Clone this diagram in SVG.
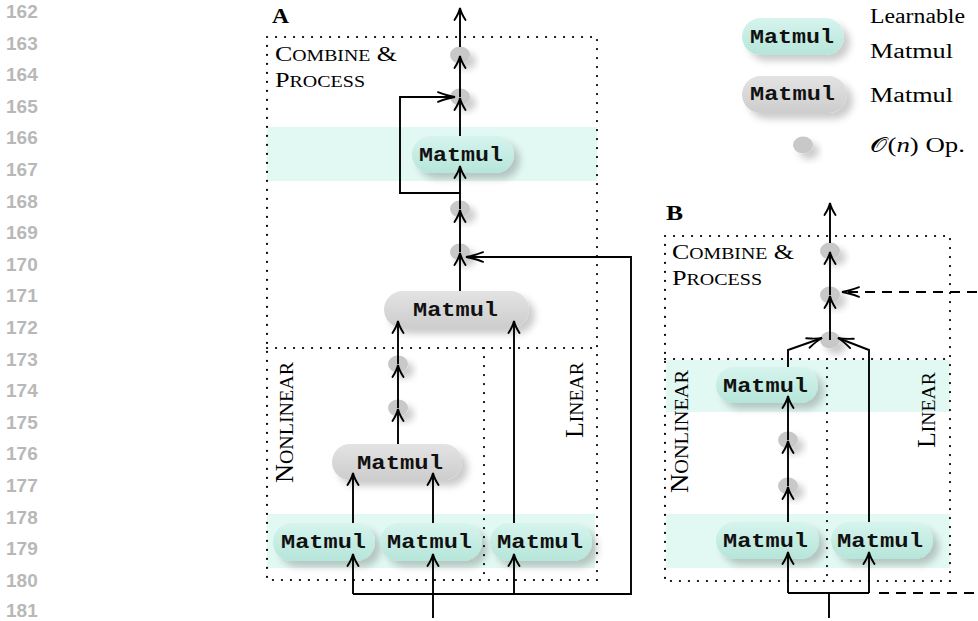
<svg xmlns="http://www.w3.org/2000/svg" width="978" height="621" viewBox="0 0 978 621">
<style>
.ln{font-family:"Liberation Sans",Arial,sans-serif;font-weight:bold;font-size:19px;fill:#b8b8b8}
.serif{font-family:"Liberation Serif","Times New Roman",serif;fill:#000}
.mm{font-family:"Liberation Mono","Courier New",monospace;font-weight:bold;font-size:20px;fill:#111}
.band{fill:#e2f8f2}
.dotted{fill:none;stroke:#000;stroke-width:2.2;stroke-linecap:round;stroke-dasharray:0.1 8.9}
.teal{fill:url(#gTeal);filter:url(#sh)}
.gray{fill:url(#gGray);filter:url(#sh)}
.op{fill:#c8c8c8;filter:url(#sh)}
.c{fill:none;stroke:#000;stroke-width:1.9}
.cv{marker-end:url(#av)}
.ch{marker-end:url(#ah)}
.cd{marker-end:url(#ad)}
.dash{stroke-dasharray:10 7}
</style>
<defs>
<linearGradient id="gTeal" x1="0" y1="0" x2="0" y2="1">
<stop offset="0" stop-color="#d6f4ed"/><stop offset="1" stop-color="#b6e5d9"/>
</linearGradient>
<linearGradient id="gGray" x1="0" y1="0" x2="0" y2="1">
<stop offset="0" stop-color="#e3e3e3"/><stop offset="1" stop-color="#cdcdcd"/>
</linearGradient>
<filter id="sh" x="-40%" y="-40%" width="190%" height="200%">
<feGaussianBlur in="SourceAlpha" stdDeviation="3.5"/>
<feOffset dx="6" dy="6" result="b"/>
<feFlood flood-color="#000" flood-opacity="0.2"/>
<feComposite in2="b" operator="in"/>
<feMerge><feMergeNode/><feMergeNode in="SourceGraphic"/></feMerge>
</filter>
<marker id="av" viewBox="-14 -8 16 16" refX="0" refY="0" markerWidth="16" markerHeight="16" markerUnits="userSpaceOnUse" orient="auto">
<path d="M-12,-5.5 Q-5,-1 0,0 Q-5,1 -12,5.5" fill="none" stroke="#000" stroke-width="1.9" stroke-linecap="round"/>
</marker>
<marker id="ah" viewBox="-19 -8 21 16" refX="0" refY="0" markerWidth="21" markerHeight="16" markerUnits="userSpaceOnUse" orient="auto">
<path d="M-17,-4.8 Q-7,-1 0,0 Q-7,1 -17,4.8" fill="none" stroke="#000" stroke-width="1.9" stroke-linecap="round"/>
</marker>
<marker id="ad" viewBox="-17 -8 19 16" refX="0" refY="0" markerWidth="19" markerHeight="16" markerUnits="userSpaceOnUse" orient="auto">
<path d="M-15,-5 Q-6,-1 0,0 Q-6,1 -15,5" fill="none" stroke="#000" stroke-width="1.9" stroke-linecap="round"/>
</marker>
</defs>
<rect width="978" height="621" fill="#fff"/>

<g id="line-numbers">
<text class="ln" x="6" y="18">162</text>
<text class="ln" x="6" y="49.6">163</text>
<text class="ln" x="6" y="81.2">164</text>
<text class="ln" x="6" y="112.8">165</text>
<text class="ln" x="6" y="144.4">166</text>
<text class="ln" x="6" y="176">167</text>
<text class="ln" x="6" y="207.6">168</text>
<text class="ln" x="6" y="239.2">169</text>
<text class="ln" x="6" y="270.8">170</text>
<text class="ln" x="6" y="302.4">171</text>
<text class="ln" x="6" y="334">172</text>
<text class="ln" x="6" y="365.6">173</text>
<text class="ln" x="6" y="397.2">174</text>
<text class="ln" x="6" y="428.8">175</text>
<text class="ln" x="6" y="460.4">176</text>
<text class="ln" x="6" y="492">177</text>
<text class="ln" x="6" y="523.6">178</text>
<text class="ln" x="6" y="555.2">179</text>
<text class="ln" x="6" y="586.8">180</text>
<text class="ln" x="6" y="617">181</text>
</g>

<!-- Panel A regions -->
<g id="panelA-regions">
<rect class="band" x="267" y="127" width="330" height="54"/>
<rect class="band" x="267" y="514" width="328" height="54"/>
<rect class="dotted" x="267" y="37" width="330" height="543"/>
<line class="dotted" x1="267" y1="348" x2="597" y2="348"/>
<line class="dotted" x1="484" y1="348" x2="484" y2="580"/>
<text class="serif" x="272" y="23" font-size="20" font-weight="bold" textLength="17" lengthAdjust="spacingAndGlyphs">A</text>
<text class="serif" x="275" y="61" textLength="122" lengthAdjust="spacingAndGlyphs"><tspan font-size="21">C</tspan><tspan font-size="16">OMBINE</tspan><tspan font-size="21"> &amp;</tspan></text>
<text class="serif" x="275" y="87" textLength="90" lengthAdjust="spacingAndGlyphs"><tspan font-size="21">P</tspan><tspan font-size="16">ROCESS</tspan></text>
<text class="serif" transform="translate(293,483) scale(1.15,1) rotate(-90)" x="0" y="0" textLength="121" lengthAdjust="spacingAndGlyphs"><tspan font-size="21">N</tspan><tspan font-size="16">ONLINEAR</tspan></text>
<text class="serif" transform="translate(583,438) scale(1.15,1) rotate(-90)" x="0" y="0" textLength="76" lengthAdjust="spacingAndGlyphs"><tspan font-size="21">L</tspan><tspan font-size="16">INEAR</tspan></text>
</g>

<!-- Panel B regions -->
<g id="panelB-regions">
<rect class="band" x="666" y="360" width="284" height="52"/>
<rect class="band" x="666" y="514" width="284" height="54"/>
<rect class="dotted" x="665" y="236" width="285" height="345"/>
<line class="dotted" x1="665" y1="359" x2="950" y2="359"/>
<line class="dotted" x1="827" y1="359" x2="827" y2="581"/>
<text class="serif" x="666" y="220" font-size="20" font-weight="bold" textLength="17" lengthAdjust="spacingAndGlyphs">B</text>
<text class="serif" x="672" y="259" textLength="122" lengthAdjust="spacingAndGlyphs"><tspan font-size="21">C</tspan><tspan font-size="16">OMBINE</tspan><tspan font-size="21"> &amp;</tspan></text>
<text class="serif" x="672" y="285" textLength="90" lengthAdjust="spacingAndGlyphs"><tspan font-size="21">P</tspan><tspan font-size="16">ROCESS</tspan></text>
<text class="serif" transform="translate(688,493) scale(1.15,1) rotate(-90)" x="0" y="0" textLength="123" lengthAdjust="spacingAndGlyphs"><tspan font-size="21">N</tspan><tspan font-size="16">ONLINEAR</tspan></text>
<text class="serif" transform="translate(935,448) scale(1.15,1) rotate(-90)" x="0" y="0" textLength="76" lengthAdjust="spacingAndGlyphs"><tspan font-size="21">L</tspan><tspan font-size="16">INEAR</tspan></text>
</g>

<!-- Panel A nodes -->
<g id="A-op1"><ellipse class="op" cx="460" cy="55" rx="10" ry="8.5"/></g>
<g id="A-op2"><ellipse class="op" cx="460" cy="97" rx="10" ry="8.5"/></g>
<g id="A-learn-top"><rect class="teal" x="412" y="136" width="102" height="37" rx="18.5"/><text class="mm" x="419" y="161" textLength="84" lengthAdjust="spacingAndGlyphs">Matmul</text></g>
<g id="A-op3"><ellipse class="op" cx="460" cy="209" rx="10" ry="8.5"/></g>
<g id="A-op4"><ellipse class="op" cx="460" cy="252" rx="10" ry="8.5"/></g>
<g id="A-matmul-mid"><rect class="gray" x="384" y="291" width="145" height="37" rx="18.5"/><text class="mm" x="413" y="316" textLength="85" lengthAdjust="spacingAndGlyphs">Matmul</text></g>
<g id="A-op5"><ellipse class="op" cx="398" cy="364" rx="10" ry="8.5"/></g>
<g id="A-op6"><ellipse class="op" cx="398" cy="408" rx="10" ry="8.5"/></g>
<g id="A-matmul-low"><rect class="gray" x="332" y="444" width="130" height="36" rx="18"/><text class="mm" x="357" y="469" textLength="86" lengthAdjust="spacingAndGlyphs">Matmul</text></g>
<g id="A-learn-1"><rect class="teal" x="273" y="523" width="102" height="38" rx="19"/><text class="mm" x="281" y="548" textLength="85" lengthAdjust="spacingAndGlyphs">Matmul</text></g>
<g id="A-learn-2"><rect class="teal" x="380" y="523" width="102" height="38" rx="19"/><text class="mm" x="387" y="548" textLength="85" lengthAdjust="spacingAndGlyphs">Matmul</text></g>
<g id="A-learn-3"><rect class="teal" x="490" y="523" width="102" height="38" rx="19"/><text class="mm" x="497" y="548" textLength="86" lengthAdjust="spacingAndGlyphs">Matmul</text></g>

<!-- Panel B nodes -->
<g id="B-op1"><ellipse class="op" cx="830" cy="251" rx="10" ry="8.5"/></g>
<g id="B-op2"><ellipse class="op" cx="830" cy="295" rx="10" ry="8.5"/></g>
<g id="B-op3"><ellipse class="op" cx="830" cy="340" rx="10" ry="8.5"/></g>
<g id="B-learn-upper"><rect class="teal" x="716" y="367" width="102" height="36" rx="18"/><text class="mm" x="723" y="392" textLength="85" lengthAdjust="spacingAndGlyphs">Matmul</text></g>
<g id="B-op4"><ellipse class="op" cx="788" cy="440" rx="10" ry="8.5"/></g>
<g id="B-op5"><ellipse class="op" cx="788" cy="486" rx="10" ry="8.5"/></g>
<g id="B-learn-1"><rect class="teal" x="716" y="522" width="103" height="37" rx="18.5"/><text class="mm" x="723" y="547" textLength="85" lengthAdjust="spacingAndGlyphs">Matmul</text></g>
<g id="B-learn-2"><rect class="teal" x="831" y="522" width="102" height="37" rx="18.5"/><text class="mm" x="837" y="547" textLength="86" lengthAdjust="spacingAndGlyphs">Matmul</text></g>

<!-- Legend -->
<g id="legend-learnable"><rect class="teal" x="742" y="18" width="102" height="37" rx="18.5"/><text class="mm" x="750" y="43" textLength="84" lengthAdjust="spacingAndGlyphs">Matmul</text>
<text class="serif" x="870" y="23" font-size="20" textLength="95" lengthAdjust="spacingAndGlyphs">Learnable</text>
<text class="serif" x="870" y="58" font-size="20" textLength="83" lengthAdjust="spacingAndGlyphs">Matmul</text></g>
<g id="legend-matmul"><rect class="gray" x="742" y="76" width="105" height="37" rx="18.5"/><text class="mm" x="750" y="100" textLength="85" lengthAdjust="spacingAndGlyphs">Matmul</text>
<text class="serif" x="870" y="102" font-size="20" textLength="83" lengthAdjust="spacingAndGlyphs">Matmul</text></g>
<g id="legend-op"><ellipse class="op" cx="803" cy="145" rx="10" ry="8.5"/>
<text class="serif" x="870" y="152" font-size="20" textLength="95" lengthAdjust="spacingAndGlyphs"><tspan font-family="'DejaVu Serif','DejaVu Sans',serif">𝒪</tspan>(<tspan font-style="italic">n</tspan>) Op.</text></g>

<!-- Connectors -->
<g id="connectors">
<!-- Panel A -->
<path class="c cv" d="M460,47 V8"/>
<path class="c cv" d="M460,97 V56"/>
<path class="c cv" d="M460,136 V98"/>
<path class="c cv" d="M460,209 V166"/>
<path class="c ch" d="M460,193 H400 V97 H455"/>
<path class="c cv" d="M460,252 V210"/>
<path class="c cv" d="M460,291 V253"/>
<path class="c ch" d="M433,594 H631 V257 H466"/>
<path class="c" d="M353,594 H433 V618"/>
<path class="c cv" d="M398,364 V321"/>
<path class="c cv" d="M398,408 V365"/>
<path class="c cv" d="M398,444 V409"/>
<path class="c cv" d="M353,523 V473"/>
<path class="c cv" d="M433,523 V473"/>
<path class="c cv" d="M514,523 V321"/>
<path class="c cv" d="M353,594 V554"/>
<path class="c cv" d="M433,594 V554"/>
<path class="c cv" d="M514,594 V554"/>
<!-- Panel B -->
<path class="c cv" d="M830,243 V203"/>
<path class="c cv" d="M830,295 V252"/>
<path class="c cv" d="M830,340 V296"/>
<path class="c cd" d="M788,367 V350 L822,338"/>
<path class="c cd" d="M869,522 V350 L838,338"/>
<path class="c cv" d="M788,440 V396"/>
<path class="c cv" d="M788,486 V441"/>
<path class="c cv" d="M788,522 V487"/>
<path class="c" d="M829,618 V593 M788,593 H869"/>
<path class="c cv" d="M788,593 V552"/>
<path class="c cv" d="M869,593 V552"/>
<path class="c dash ch" d="M879,593 H990 V292 H842"/>
</g>
</svg>
